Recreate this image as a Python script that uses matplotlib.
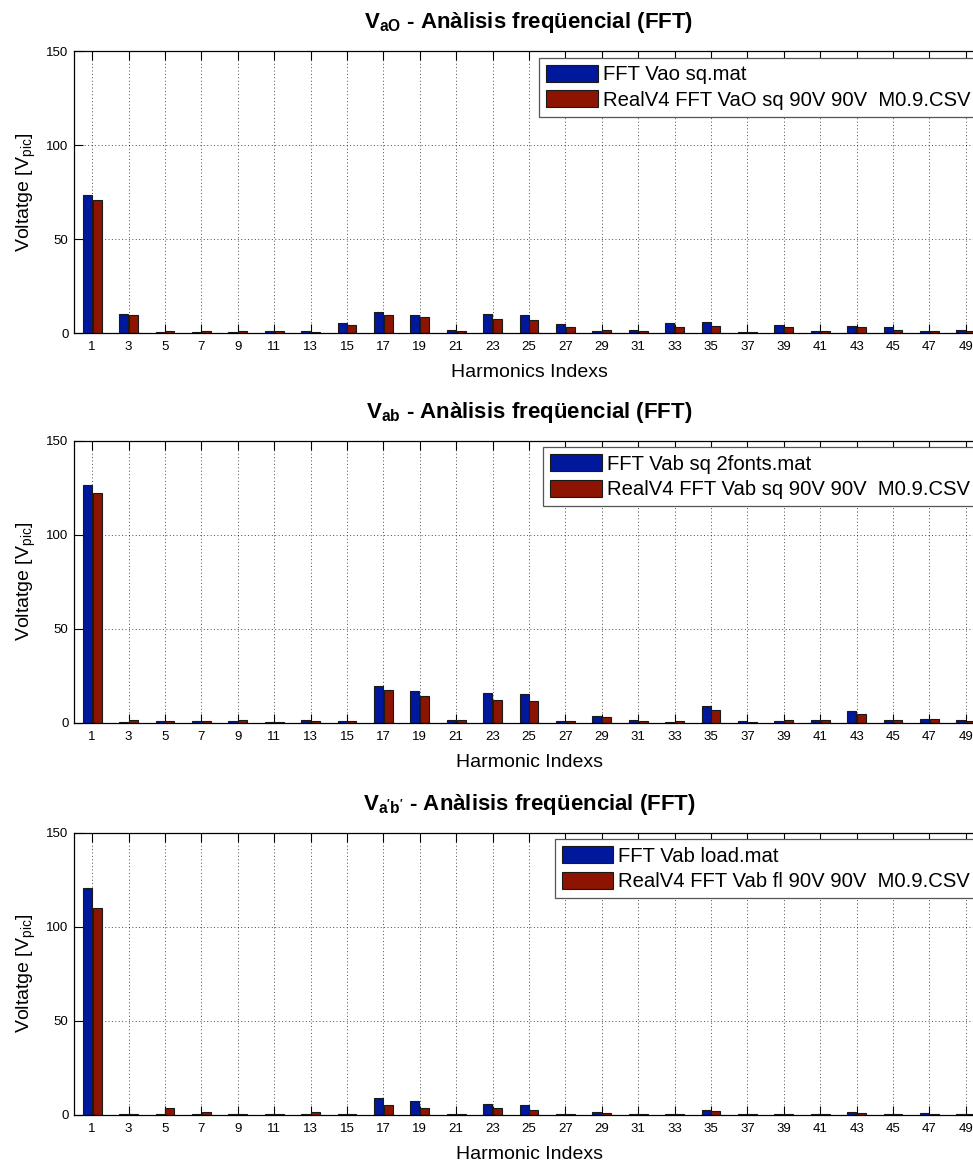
#!/usr/bin/env python3
# -*- coding: utf-8 -*-
# %% imports
import numpy as np
import matplotlib as mpl
import matplotlib.figure as figure

mpl.rc('font', family='Liberation Sans', size=9.5)
mpl.rc('mathtext', fontset='custom', rm='Liberation Sans',
       bf='Liberation Sans:bold', it='Liberation Sans:italic')

# %% data (peak volts per odd harmonic)
harmonics = list(range(1, 50, 2))

vao_sim = [73.6, 10.0, 0.5, 0.4, 0.4, 1.1, 1.0, 5.2, 11.0, 9.4, 1.4, 10.0, 9.4,
           4.8, 1.2, 1.6, 5.2, 5.7, 0.5, 4.3, 1.2, 3.9, 3.0, 1.2, 1.6]
vao_real = [70.6, 9.4, 0.8, 0.8, 0.8, 1.0, 0.4, 4.3, 9.8, 8.5, 0.9, 7.3, 6.8,
            3.4, 1.6, 0.9, 3.4, 3.7, 0.5, 3.0, 0.9, 3.0, 1.6, 1.2, 0.9]

vab_sim = [126.4, 0.3, 0.8, 0.9, 0.9, 0.3, 1.4, 0.9, 19.5, 17.0, 1.4, 15.8, 15.2,
           0.9, 3.7, 1.2, 0.3, 8.9, 0.9, 0.9, 1.2, 6.4, 1.2, 2.1, 1.6]
vab_real = [122.0, 1.4, 1.0, 0.9, 1.2, 0.3, 0.9, 0.9, 17.4, 14.4, 1.4, 12.2, 11.5,
            0.9, 2.8, 0.9, 0.9, 6.7, 0.3, 1.2, 1.6, 4.6, 1.6, 2.1, 1.0]

vload_sim = [120.6, 0.3, 0.3, 0.3, 0.3, 0.3, 0.3, 0.3, 8.9, 7.4, 0.3, 5.7, 5.1,
             0.3, 1.4, 0.3, 0.3, 2.7, 0.3, 0.3, 0.3, 1.6, 0.3, 1.0, 0.3]
vload_real = [110.1, 0.3, 3.8, 1.4, 0.3, 0.3, 1.4, 0.3, 5.1, 3.5, 0.3, 3.5, 2.3,
              0.3, 1.0, 0.3, 0.3, 1.8, 0.3, 0.3, 0.3, 1.0, 0.3, 0.3, 0.3]

titles = [r"$\mathbf{V_{aO}}$ - Anàlisis freqüencial (FFT)",
          r"$\mathbf{V_{ab}}$ - Anàlisis freqüencial (FFT)",
          r"$\mathbf{V_{a'b'}}$ - Anàlisis freqüencial (FFT)"]
xlabels = ["Harmonics Indexs", "Harmonic Indexs", "Harmonic Indexs"]
legends = [["FFT Vao sq.mat", "RealV4 FFT VaO sq 90V 90V  M0.9.CSV"],
           ["FFT Vab sq 2fonts.mat", "RealV4 FFT Vab sq 90V 90V  M0.9.CSV"],
           ["FFT Vab load.mat", "RealV4 FFT Vab fl 90V 90V  M0.9.CSV"]]
series = [(vao_sim, vao_real), (vab_sim, vab_real), (vload_sim, vload_real)]

# %% plot
W, H = 973, 1162
fig = figure.Figure(figsize=(W / 100, H / 100), dpi=100)
fig.patch.set_facecolor('white')

blue = '#00189c'
red = '#8c1400'
x = np.array(harmonics)
bottoms = [333, 722.7, 1114.7]

for i in range(3):
    axs = fig.add_axes([74 / W, (H - bottoms[i]) / H, 910 / W, 282 / H])
    sim, real = series[i]
    axs.bar(x - 0.27, sim, width=0.5, color=blue, edgecolor='#1a1a1a',
            linewidth=0.8, label=legends[i][0], zorder=2)
    axs.bar(x + 0.27, real, width=0.5, color=red, edgecolor='#1a1a1a',
            linewidth=0.8, label=legends[i][1], zorder=2)

    axs.set_xlim(0, 50)
    axs.set_ylim(0, 150)
    axs.set_xticks(harmonics)
    axs.set_yticks([0, 50, 100, 150])
    axs.tick_params(direction='in', length=6.5, width=0.8, top=True, right=True,
                    labelsize=9.5)
    axs.tick_params(axis='x', pad=6)
    axs.tick_params(axis='y', pad=4)
    axs.grid(True, linestyle=(0, (1, 2.5)), linewidth=0.7, color='k', alpha=0.7,
             zorder=0)
    axs.set_axisbelow(True)
    for s in axs.spines.values():
        s.set_linewidth(0.9)
        s.set_zorder(5)

    axs.set_title(titles[i], fontsize=16, fontweight='bold', pad=16.5)
    axs.set_xlabel(xlabels[i], fontsize=14, labelpad=8)
    axs.set_ylabel(r'Voltatge [V$_{\mathrm{pic}}$]', fontsize=14, labelpad=6)

    leg = axs.legend(loc='upper right', fontsize=14.6, handlelength=2.55,
                     handleheight=0.9, handletextpad=0.25, labelspacing=0.3,
                     borderpad=0.35, borderaxespad=0.33, fancybox=False,
                     framealpha=1, edgecolor='#555555')
    leg.get_frame().set_linewidth(0.9)
    leg.set_zorder(6)

# %% saving
fig.savefig('out.png', dpi=100, facecolor='white')
